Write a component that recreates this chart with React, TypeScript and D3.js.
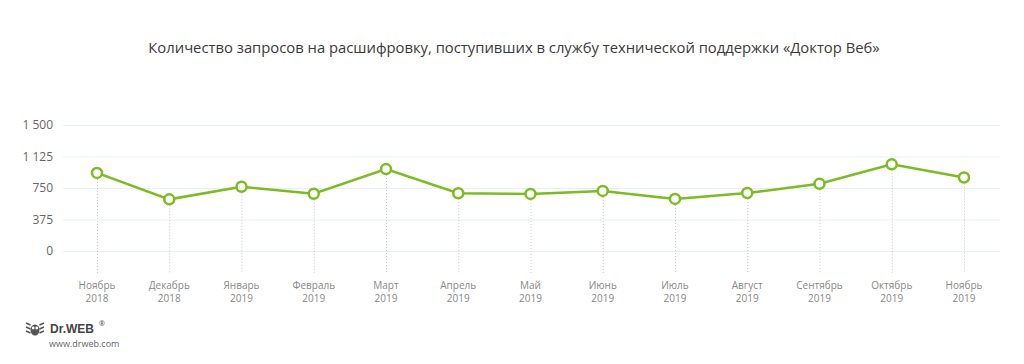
import React, {useEffect, useRef} from 'react';
import * as d3 from 'd3';

const months = ['Ноябрь', 'Декабрь', 'Январь', 'Февраль', 'Март', 'Апрель', 'Май', 'Июнь', 'Июль', 'Август', 'Сентябрь', 'Октябрь', 'Ноябрь'];
const years = ['2018', '2018', '2019', '2019', '2019', '2019', '2019', '2019', '2019', '2019', '2019', '2019', '2019'];
const requests = [930, 615, 765, 682, 975, 688, 680, 715, 620, 690, 800, 1032, 875];
const yTicks = [0, 375, 750, 1125, 1500];

const W = 1024;
const H = 364;
const FONT = '"Open Sans", "Noto Sans", sans-serif';

const App: React.FC = () => {
    const svgRef = useRef<SVGSVGElement>(null);

    useEffect(() => {
        const svg = d3.select(svgRef.current);
        svg.selectAll('*').remove();

        const x = d3.scalePoint<number>()
            .domain(d3.range(months.length))
            .range([97, 964]);
        const y = d3.scaleLinear().domain([0, 1500]).range([251, 125]);

        // title
        svg.append('text')
            .attr('x', 514).attr('y', 53)
            .attr('text-anchor', 'middle')
            .style('font-family', FONT).style('font-size', '14.8px')
            .attr('fill', '#3a3a3a')
            .text('Количество запросов на расшифровку, поступивших в службу технической поддержки «Доктор Веб»');

        // gridlines
        svg.append('g').selectAll('line').data(yTicks).enter().append('line')
            .attr('x1', 63).attr('x2', 1000)
            .attr('y1', d => y(d) + 0.5).attr('y2', d => y(d) + 0.5)
            .attr('stroke', '#e6f0fb').attr('stroke-width', 1);

        svg.append('g').selectAll('text').data(yTicks).enter().append('text')
            .attr('x', 53).attr('y', d => y(d) + 4)
            .attr('text-anchor', 'end')
            .style('font-family', FONT).style('font-size', '12px')
            .attr('fill', '#666')
            .text(d => d3.format(',')(d).replace(',', ' '));

        // dotted drop lines
        svg.append('g').selectAll('line').data(requests).enter().append('line')
            .attr('x1', (_, i) => x(i)! + 0.5).attr('x2', (_, i) => x(i)! + 0.5)
            .attr('y1', d => y(d)).attr('y2', 273)
            .attr('stroke', '#c4c4c4').attr('stroke-width', 1)
            .attr('stroke-dasharray', '1,2');

        // x labels
        const xl = svg.append('g').selectAll('text').data(months).enter().append('text')
            .attr('text-anchor', 'middle')
            .style('font-family', FONT).style('font-size', '10px')
            .attr('fill', '#888');
        xl.append('tspan').attr('x', (_, i) => x(i)!).attr('y', 289).text(d => d);
        xl.append('tspan').attr('x', (_, i) => x(i)!).attr('y', 302).text((_, i) => years[i]);

        const line = d3.line<number>()
            .x((_, i) => x(i)!)
            .y(d => y(d));

        svg.append('path').datum(requests)
            .attr('fill', 'none').attr('stroke', '#7cbb22')
            .attr('stroke-width', 2.5).attr('d', line);

        svg.append('g').selectAll('circle').data(requests).enter().append('circle')
            .attr('cx', (_, i) => x(i)!).attr('cy', d => y(d))
            .attr('r', 5)
            .attr('fill', '#fff').attr('stroke', '#7cbb22').attr('stroke-width', 2.5);

        // logo
        const logo = svg.append('g').attr('transform', 'translate(35,329)');
        logo.append('ellipse').attr('cx', 0).attr('cy', 1).attr('rx', 4.5).attr('ry', 5.5).attr('fill', '#555');
        logo.append('circle').attr('cx', -1.8).attr('cy', -1).attr('r', 1.4).attr('fill', '#fff');
        logo.append('circle').attr('cx', 1.8).attr('cy', -1).attr('r', 1.4).attr('fill', '#fff');
        [-1, 1].forEach(s => {
            [-4, 0, 4].forEach(dy => {
                logo.append('line').attr('x1', s * 4.5).attr('y1', dy).attr('x2', s * 9).attr('y2', dy - 2)
                    .attr('stroke', '#555').attr('stroke-width', 1.4);
            });
        });
        svg.append('text').attr('x', 50).attr('y', 333)
            .style('font-family', '"Liberation Sans", sans-serif').style('font-size', '12px').style('font-weight', 'bold')
            .attr('fill', '#444').text('Dr.WEB');
        svg.append('text').attr('x', 99).attr('y', 326)
            .style('font-family', FONT).style('font-size', '7px')
            .attr('fill', '#444').text('®');
        svg.append('text').attr('x', 49).attr('y', 347)
            .style('font-family', FONT).style('font-size', '9px')
            .attr('fill', '#666').text('www.drweb.com');
    }, []);

    return <svg ref={svgRef} width={W} height={H} style={{position: 'absolute', left: 0, top: 0, background: '#fff'}}/>;
};

export default App;
